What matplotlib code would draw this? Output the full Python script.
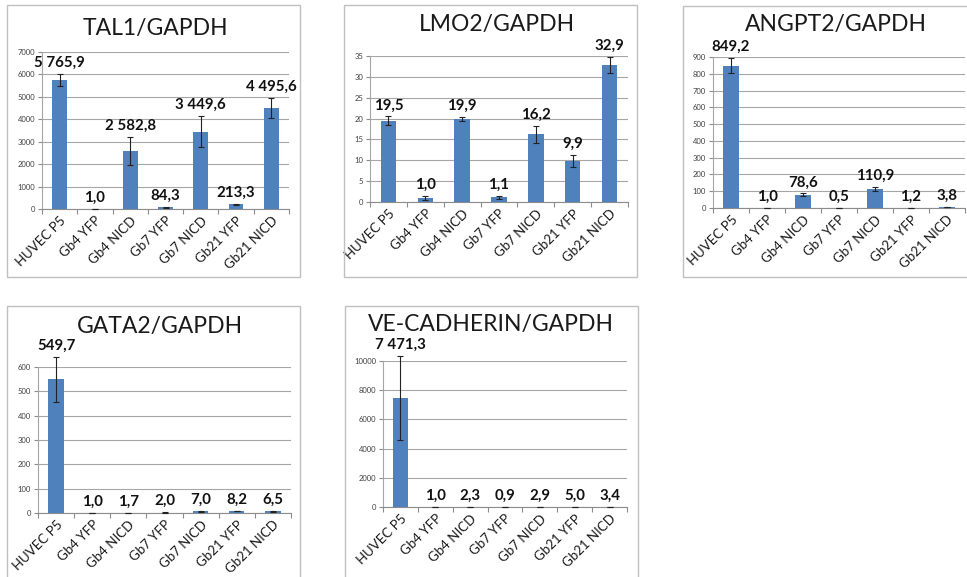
import matplotlib
matplotlib.use("Agg")
import matplotlib.pyplot as plt
from matplotlib.patches import Rectangle

plt.rcParams['font.family'] = ['Lato', 'DejaVu Sans']

W, H = 967, 577

categories = ["HUVEC P5", "Gb4 YFP", "Gb4 NICD", "Gb7 YFP",
              "Gb7 NICD", "Gb21 YFP", "Gb21 NICD"]

tal1 = [5765.9, 1.0, 2582.8, 84.3, 3449.6, 213.3, 4495.6]
tal1_err = [270, 0, 640, 20, 700, 30, 450]

lmo2 = [19.5, 1.0, 19.9, 1.1, 16.2, 9.9, 32.9]
lmo2_err = [1.0, 0.5, 0.4, 0.4, 2.0, 1.4, 1.9]

angpt2 = [849.2, 1.0, 78.6, 0.5, 110.9, 1.2, 3.8]
angpt2_err = [45, 0.2, 8, 0.1, 12, 0.2, 0.6]

gata2 = [549.7, 1.0, 1.7, 2.0, 7.0, 8.2, 6.5]
gata2_err = [92, 0.2, 0.3, 0.3, 1.0, 1.0, 1.0]

vecad = [7471.3, 1.0, 2.3, 0.9, 2.9, 5.0, 3.4]
vecad_err = [2900, 0.2, 0.5, 0.2, 0.5, 1.0, 0.6]

# (title, values, errors, ymax, ystep, panel box px, axes box px, title xy px)
panels = [
    ("TAL1/GAPDH", tal1, tal1_err, 7000, 1000, (7, 5, 300, 277), (42, 52, 289, 209), (155, 28)),
    ("LMO2/GAPDH", lmo2, lmo2_err, 35, 5, (344, 5, 637, 277), (370, 56, 628, 202), (497, 25)),
    ("ANGPT2/GAPDH", angpt2, angpt2_err, 900, 100, (683, 6, 970, 277), (713, 57, 965, 208), (836, 25)),
    ("GATA2/GAPDH", gata2, gata2_err, 600, 100, (7, 306, 300, 580), (38, 367, 291, 513), (160, 327)),
    ("VE-CADHERIN/GAPDH", vecad, vecad_err, 10000, 2000, (345, 306, 638, 580), (383, 361, 627, 507), (491, 324)),
]

BLUE = "#4F81BD"


def fmt(v):
    return f"{v:,.1f}".replace(",", " ").replace(".", ",")


fig = plt.figure(figsize=(W / 100, H / 100), dpi=100)

for title, vals, errs, ymax, ystep, box, ax_box, txy in panels:
    bx0, by0, bx1, by1 = box
    fig.add_artist(Rectangle((bx0 / W, 1 - by1 / H), (bx1 - bx0) / W, (by1 - by0) / H,
                             transform=fig.transFigure, fill=False,
                             ec="#c0c0c0", lw=1.0))
    fig.text(txy[0] / W, 1 - txy[1] / H, title, ha="center", va="center",
             fontsize=16.5, color="#1a1a1a")

    x0, y0, x1, y1 = ax_box
    ax = fig.add_axes([x0 / W, 1 - y1 / H, (x1 - x0) / W, (y1 - y0) / H])
    xs = list(range(len(categories)))
    ax.bar(xs, vals, width=0.42, color=BLUE, zorder=3)
    eb = ax.errorbar(xs, vals, yerr=errs, fmt="none", ecolor="#222222",
                     elinewidth=0.8, capsize=2.2, capthick=0.8, zorder=4)
    for a in eb.lines[1] + eb.lines[2]:
        a.set_clip_on(False)
    for x, v, e in zip(xs, vals, errs):
        ax.annotate(fmt(v), (x, v + e), xytext=(0, 3), textcoords="offset points",
                    ha="center", va="bottom", fontsize=10.8, fontweight="bold",
                    color="#111111", annotation_clip=False)

    ax.set_xlim(-0.5, len(categories) - 0.5)
    ax.set_ylim(0, ymax)
    ax.set_yticks(range(0, ymax + 1, ystep))
    ax.yaxis.grid(True, color="#a6a6a6", lw=0.8, zorder=0)
    ax.set_axisbelow(True)
    for s in ["top", "right"]:
        ax.spines[s].set_visible(False)
    ax.spines["left"].set_color("#a6a6a6")
    ax.spines["bottom"].set_color("#8c8c8c")
    ax.tick_params(axis="y", labelsize=5.5, labelcolor="#404040", length=3,
                   color="#8c8c8c", pad=2)
    ax.set_xticks([i - 0.5 for i in range(len(categories) + 1)], minor=False)
    ax.set_xticklabels([])
    ax.tick_params(axis="x", length=3.5, color="#8c8c8c")
    ax.set_xticks(xs, minor=True)
    ax.set_xticklabels(categories, minor=True, rotation=45, ha="right",
                       rotation_mode="anchor", fontsize=9.5, color="#1a1a1a")
    ax.tick_params(axis="x", which="minor", length=0, pad=4)
    ax.patch.set_alpha(0)

fig.savefig("out.png", dpi=100)
